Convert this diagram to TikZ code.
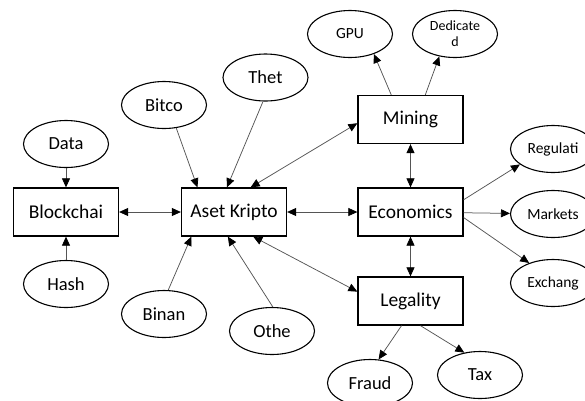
\documentclass[tikz,border=0pt]{standalone}
\usepackage{fontspec}
\setmainfont{Carlito}
\usetikzlibrary{arrows.meta,shapes.geometric}
\definecolor{Wire}{HTML}{555555}

\begin{document}
\begin{tikzpicture}[x=1pt,y=-1pt,
  box/.style={draw=black,line width=1.3pt,minimum width=105pt,minimum height=48pt,inner sep=0pt,font=\fontsize{19.5}{22}\selectfont},
  bubble/.style={draw=black,ellipse,line width=1.1pt,minimum width=85pt,minimum height=47pt,inner sep=0pt,font=\fontsize{18.5}{21}\selectfont},
  smallbubble/.style={bubble,font=\fontsize{15.5}{17}\selectfont},
  link/.style={draw=Wire,line width=0.75pt,-{Triangle[length=9pt,width=8pt,color=black]}},
  twoway/.style={draw=Wire,line width=0.75pt,{Triangle[length=9pt,width=8pt,color=black]}-{Triangle[length=9pt,width=8pt,color=black]}}]
\useasboundingbox (0,0) rectangle (585,400);
\node[box] (block) at (66,212) {Blockchai};
\node[box] (aset) at (234,212) {Aset Kripto};
\node[box] (econ) at (410.5,212) {Economics};
\node[box] (mining) at (410.5,119.5) {Mining};
\node[box] (legal) at (410.5,301) {Legality};
\node[bubble] (data) at (66,144) {Data};
\node[bubble] (hash) at (66,284) {Hash};
\node[bubble] (bitco) at (164,105) {Bitco};
\node[bubble] (thet) at (265.5,77.5) {Thet};
\node[bubble] (binan) at (164,314) {Binan};
\node[bubble] (othe) at (272,331) {Othe};
\node[smallbubble] (gpu) at (350,34) {GPU};
\node[smallbubble,align=center,font=\fontsize{14}{16}\selectfont] (dedic) at (455,34) {Dedicate\\d};
\node[smallbubble] (regul) at (553,149) {Regulati};
\node[smallbubble] (markets) at (553,214) {Markets};
\node[smallbubble] (exch) at (553,283) {Exchang};
\node[bubble] (fraud) at (370,383) {Fraud};
\node[bubble] (tax) at (480,375) {Tax};
\draw[link] (data) -- (block);
\draw[link] (hash) -- (block);
\draw[twoway] (block) -- (aset);
\draw[twoway] (aset) -- (econ);
\draw[link] (bitco.-62) -- (aset.146);
\draw[link] (thet.-96) -- (aset.106);
\draw[link] (binan.80) -- (aset.-150);
\draw[link] (othe.88) -- (aset.-104);
\draw[twoway] (aset.56) -- (mining.184);
\draw[twoway] (aset.-52) -- (legal.170);
\draw[twoway] (mining) -- (econ);
\draw[twoway] (econ) -- (legal);
\draw[link] (mining.128) -- (gpu.-40);
\draw[link] (mining.59) -- (dedic.-125);
\draw[link] (econ.13) -- (regul.205);
\draw[link] (econ) -- (markets);
\draw[link] (econ.-6) -- (exch.140);
\draw[link] (legal.-110) -- (fraud.70);
\draw[link] (legal.-68) -- (tax.125);
\end{tikzpicture}
\end{document}
